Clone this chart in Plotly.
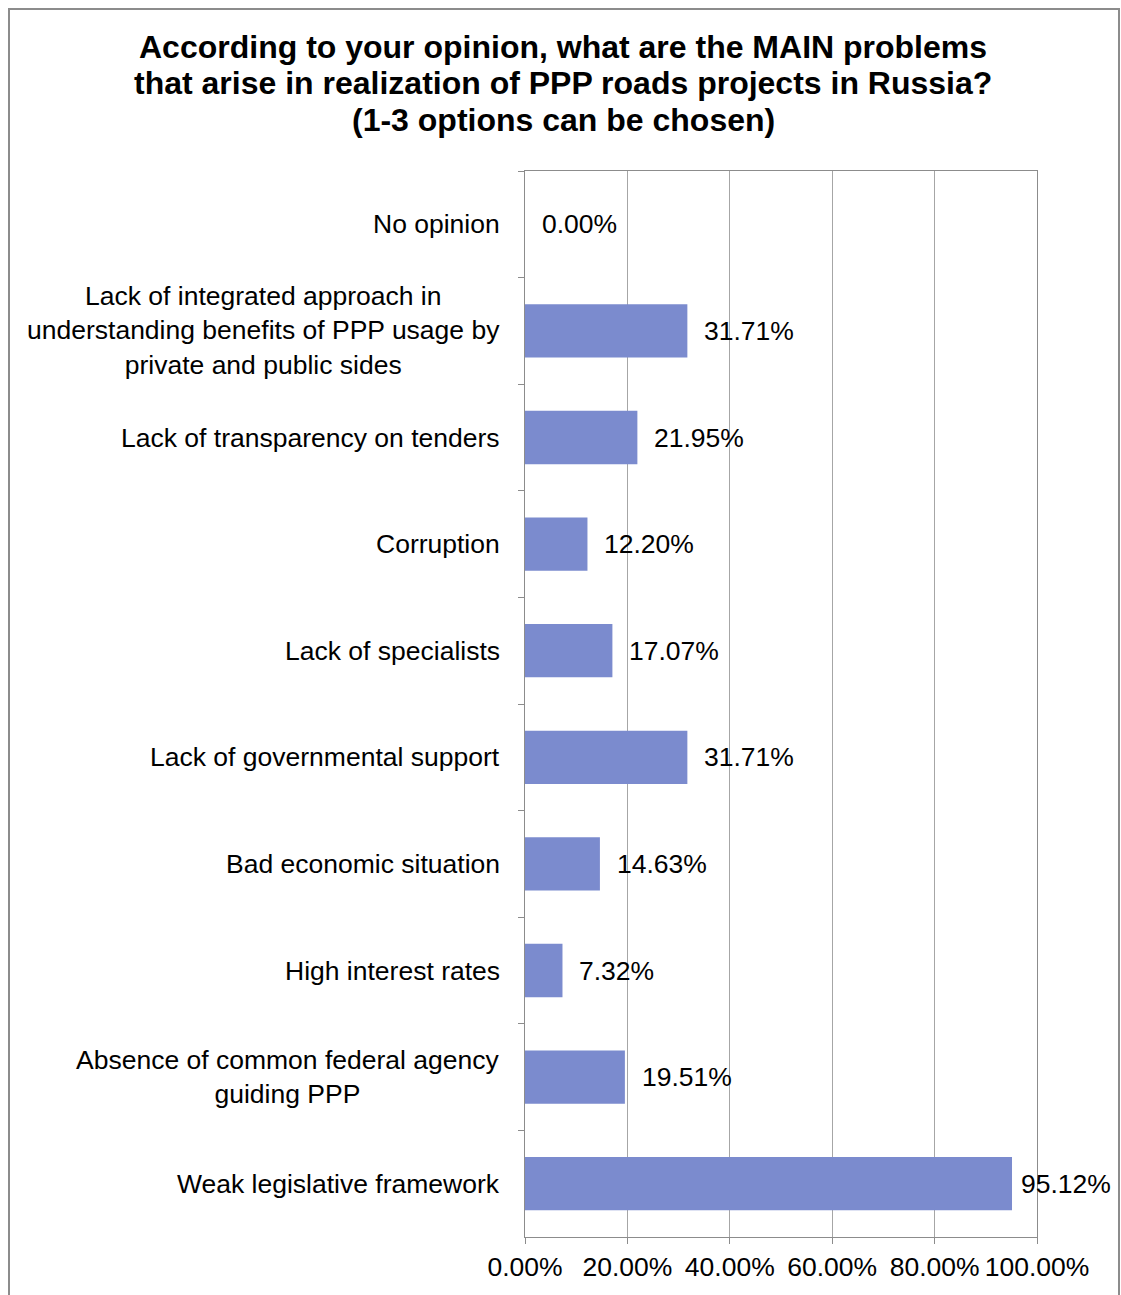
import plotly.graph_objects as go

categories = [
    "No opinion",
    "Lack of integrated approach in<br>understanding benefits of PPP usage by<br>private and public sides",
    "Lack of transparency on tenders",
    "Corruption",
    "Lack of specialists",
    "Lack of governmental support",
    "Bad economic situation",
    "High interest rates",
    "Absence of common federal agency<br>guiding PPP",
    "Weak legislative framework",
]
values = [0.0, 0.3171, 0.2195, 0.1220, 0.1707, 0.3171, 0.1463, 0.0732, 0.1951, 0.9512]
value_labels = ["0.00%", "31.71%", "21.95%", "12.20%", "17.07%", "31.71%", "14.63%", "7.32%", "19.51%", "95.12%"]
x_ticks = [0, 0.2, 0.4, 0.6, 0.8, 1.0]
x_tick_labels = ["0.00%", "20.00%", "40.00%", "60.00%", "80.00%", "100.00%"]

title_lines = [
    "According to your opinion, what are the MAIN problems",
    "that arise in realization of PPP roads projects in Russia?",
    "(1-3 options can be chosen)",
]

FONT = "Liberation Sans, Arial, sans-serif"
FS = 26.5
ids = list(range(len(categories)))

W, H = 1121, 1295
L, T, R, B = 525, 171, 84, 58
pw, ph = W - L - R, H - T - B

def px_x(p):
    return (p - L) / pw

def px_y(p):
    return (H - B - p) / ph

fig = go.Figure()
fig.add_trace(go.Bar(
    y=ids, x=values, orientation="h",
    marker=dict(color="#7B8BCE", line=dict(width=0)),
    hoverinfo="skip",
))

annotations = []
for i, (c, v, t) in enumerate(zip(categories, values, value_labels)):
    annotations.append(dict(
        x=0, xref="paper", y=i, yref="y", text=c, showarrow=False,
        xanchor="right", xshift=-23, align="center",
        font=dict(family=FONT, size=FS, color="black"),
    ))
    annotations.append(dict(
        x=v, xref="x", y=i, yref="y", text=t, showarrow=False,
        xanchor="left", xshift=15 if v < 0.9 else 7,
        font=dict(family=FONT, size=FS, color="black"),
    ))

for k, ln in enumerate(title_lines):
    annotations.append(dict(
        x=px_x(563), xref="paper", y=px_y(47 + 36.5 * k), yref="paper",
        text="<b>" + ln + "</b>", showarrow=False, xanchor="center", yanchor="middle",
        font=dict(family=FONT, size=32, color="black"),
    ))

fig.update_layout(
    width=W, height=H,
    margin=dict(l=L, r=R, t=T, b=B, pad=0),
    paper_bgcolor="white", plot_bgcolor="white",
    showlegend=False,
    bargap=0.5,
    annotations=annotations,
    shapes=[dict(type="rect", xref="paper", yref="paper",
                 x0=px_x(9), x1=px_x(1119), y0=px_y(1310), y1=px_y(9),
                 line=dict(color="#8c8c8c", width=2), fillcolor="rgba(0,0,0,0)", layer="below")],
    xaxis=dict(
        range=[0, 1], tickvals=x_ticks, ticktext=x_tick_labels,
        showgrid=True, gridcolor="#A6A6A6", gridwidth=1,
        showline=True, linecolor="#8c8c8c", linewidth=1, mirror=True,
        ticks="outside", ticklen=6, tickcolor="#8c8c8c",
        tickfont=dict(family=FONT, size=FS, color="black"),
        zeroline=False, fixedrange=True, automargin=False,
    ),
    yaxis=dict(
        type="category", categoryorder="array", categoryarray=ids,
        autorange="reversed",
        showticklabels=False, tickson="boundaries",
        ticks="outside", ticklen=6, tickcolor="#8c8c8c",
        showline=True, linecolor="#8c8c8c", linewidth=1, mirror=True,
        showgrid=False, zeroline=False, fixedrange=True, automargin=False,
    ),
)

fig.write_html(
    "out.html",
    config={"displayModeBar": False},
    post_script="document.body.style.margin='0';document.body.style.overflow='hidden';",
)
